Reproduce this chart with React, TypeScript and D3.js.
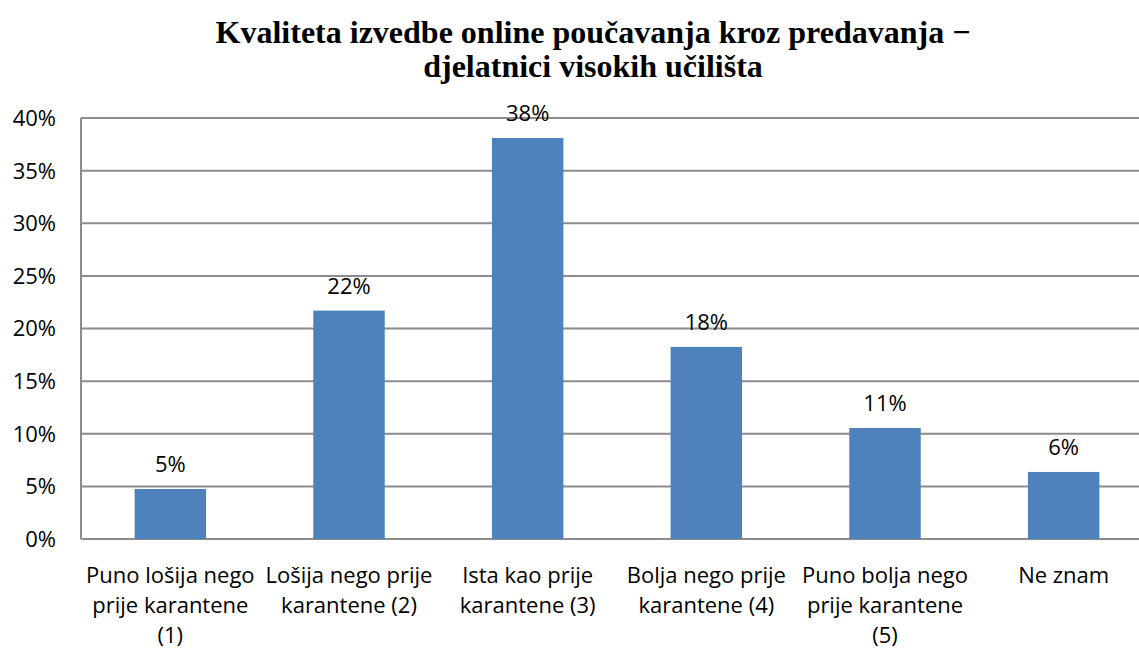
import React, { useEffect, useRef } from 'react';
import * as d3 from 'd3';

// chart data
const categories: string[] = ['c1', 'c2', 'c3', 'c4', 'c5', 'c6'];
const categoryLabels: string[][] = [
	['Puno lošija nego', 'prije karantene', '(1)'],
	['Lošija nego prije', 'karantene (2)'],
	['Ista kao prije', 'karantene (3)'],
	['Bolja nego prije', 'karantene (4)'],
	['Puno bolja nego', 'prije karantene', '(5)'],
	['Ne znam'],
];
const values: number[] = [0.0475, 0.217, 0.381, 0.1825, 0.1055, 0.0637];
const valueLabels: string[] = ['5%', '22%', '38%', '18%', '11%', '6%'];
const yTicks: number[] = [0, 0.05, 0.1, 0.15, 0.2, 0.25, 0.3, 0.35, 0.4];
const titleLines: string[] = ['Kvaliteta izvedbe online poučavanja kroz predavanja −', 'djelatnici visokih učilišta'];

const W = 1139;
const H = 653;
// plot area runs past the right edge of the picture, like the original
const margin = { top: 118, left: 81, bottom: 653 - 539, right: 1139 - 1153 };
const innerWidth = W - margin.left - margin.right;
const innerHeight = H - margin.top - margin.bottom;

const barColor = '#4f81bd';
const gridColor = '#8c8c8c';
const font = "'Open Sans', sans-serif";

const App: React.FC = () => {
	const ref = useRef<SVGGElement>(null);

	useEffect(() => {
		const g = d3.select(ref.current);
		g.selectAll('*').remove();

		const yScale = d3.scaleLinear().domain([0, 0.4]).range([innerHeight, 0]);
		const xScale = d3.scaleBand().domain(categories).range([0, innerWidth]).paddingInner(0.6).paddingOuter(0.3);

		// grid
		g.append('g')
			.selectAll('line')
			.data(yTicks)
			.join('line')
			.attr('x1', 0)
			.attr('x2', innerWidth)
			.attr('y1', (d) => yScale(d))
			.attr('y2', (d) => yScale(d))
			.style('stroke', gridColor)
			.style('stroke-width', 2);

		// y axis line
		g.append('line')
			.attr('x1', 0)
			.attr('x2', 0)
			.attr('y1', 0)
			.attr('y2', innerHeight)
			.style('stroke', gridColor)
			.style('stroke-width', 2);

		// y labels
		g.append('g')
			.selectAll('text')
			.data(yTicks)
			.join('text')
			.attr('x', -25)
			.attr('y', (d) => yScale(d))
			.attr('dy', '0.36em')
			.attr('text-anchor', 'end')
			.style('font-family', font)
			.style('font-size', '22px')
			.style('fill', '#000')
			.text((d) => d3.format('.0%')(d));

		// bars
		g.append('g')
			.selectAll('rect')
			.data(values)
			.join('rect')
			.attr('x', (d, i) => xScale(categories[i]) as number)
			.attr('width', xScale.bandwidth())
			.attr('y', (d) => yScale(d))
			.attr('height', (d) => innerHeight - yScale(d))
			.style('fill', barColor);

		// value labels
		g.append('g')
			.selectAll('text')
			.data(values)
			.join('text')
			.attr('x', (d, i) => (xScale(categories[i]) as number) + xScale.bandwidth() / 2)
			.attr('y', (d) => yScale(d) - 25)
			.attr('dy', '0.36em')
			.attr('text-anchor', 'middle')
			.style('font-family', font)
			.style('font-size', '22px')
			.style('fill', '#000')
			.text((d, i) => valueLabels[i]);

		// category labels
		const cat = g
			.append('g')
			.selectAll('text')
			.data(categoryLabels)
			.join('text')
			.attr('text-anchor', 'middle')
			.style('font-family', font)
			.style('font-size', '22px')
			.style('fill', '#000')
			.attr('transform', (d, i) => `translate(${(xScale(categories[i]) as number) + xScale.bandwidth() / 2},${innerHeight + 44})`);
		cat.selectAll('tspan')
			.data((d) => d)
			.join('tspan')
			.attr('x', 0)
			.attr('y', (d, j) => j * 30)
			.text((d) => d);

		g.attr('transform', `translate(${margin.left},${margin.top})`);
	}, []);

	return (
		<div style={{ position: 'absolute', left: 0, top: 0, width: W, height: H, background: '#fff', overflow: 'hidden' }}>
			<svg width={W} height={H} style={{ display: 'block' }}>
				<rect width={W} height={H} fill="#fff" />
				<text
					x={593}
					textAnchor="middle"
					style={{ fontFamily: "'Liberation Serif', 'Times New Roman', serif", fontWeight: 'bold', fontSize: '32px' }}
				>
					{titleLines.map((t, i) => (
						<tspan key={i} x={593} y={43 + i * 34}>
							{t}
						</tspan>
					))}
				</text>
				<g ref={ref} />
			</svg>
		</div>
	);
};

export default App;
